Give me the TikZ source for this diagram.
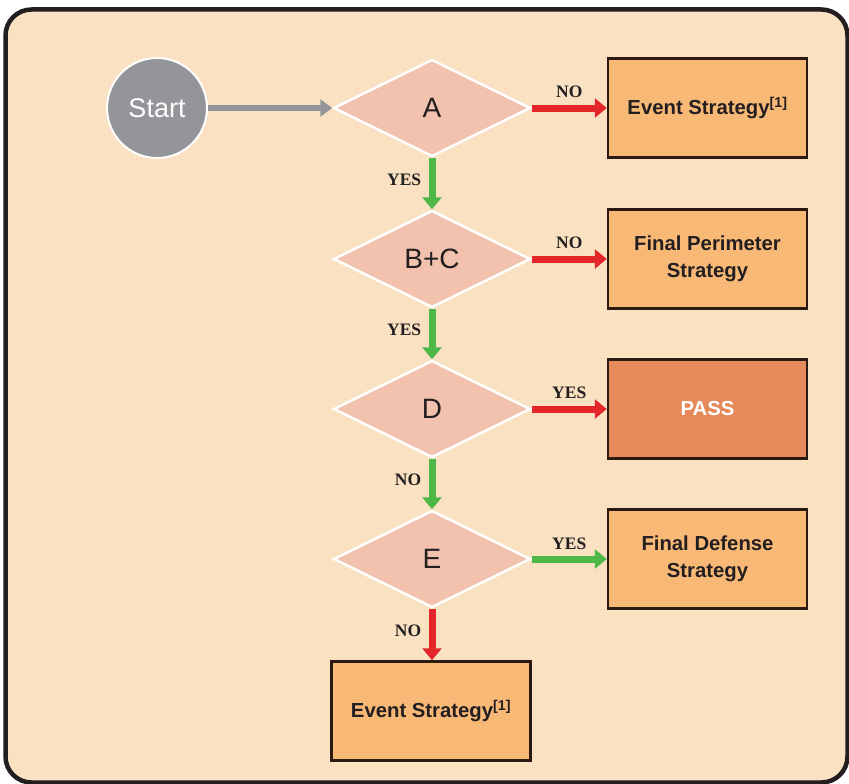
\documentclass[tikz,border=0pt]{standalone}
\usepackage{fontspec}
\setmainfont{Liberation Sans}
\newfontfamily\labelfont{Liberation Serif}
\usetikzlibrary{shapes.geometric,arrows.meta}

\definecolor{panel}{HTML}{FAE1C2}
\definecolor{frameline}{HTML}{231F20}
\definecolor{ink}{HTML}{231F20}
\definecolor{pinkfill}{HTML}{F2C2AF}
\definecolor{boxfill}{HTML}{F9B976}
\definecolor{passfill}{HTML}{E6895B}
\definecolor{boxline}{HTML}{2B1A12}
\definecolor{nored}{HTML}{E3262A}
\definecolor{yesgreen}{HTML}{4DB748}
\definecolor{startgray}{HTML}{939598}

\begin{document}
\begin{tikzpicture}[x=1pt,y=-1pt,
  decision/.style={diamond, aspect=2, fill=pinkfill, draw=white, line width=2.5pt,
    minimum width=197pt, minimum height=97pt, inner sep=0pt,
    font=\fontsize{28}{30}\selectfont, text=ink},
  outcome/.style={rectangle, fill=boxfill, draw=boxline, line width=2.5pt,
    minimum width=199pt, minimum height=99pt, align=center, inner sep=0pt,
    font=\fontsize{20.3}{27}\selectfont\bfseries, text=ink},
  flow/.style={line width=7pt, -{Triangle[width=19pt,length=12pt]}},
  ans/.style={font=\labelfont\bfseries\fontsize{17.5}{17.5}\selectfont, text=ink}]

% page and rounded panel
\useasboundingbox (0,0) rectangle (849,784);
\fill[white] (0,0) rectangle (849,784);
\draw[line width=4.5pt, draw=frameline, fill=panel, rounded corners=26pt]
  (5.5,9.5) rectangle (847.5,782.5);

% start
\node[circle, fill=startgray, draw=white, line width=2pt, minimum size=100pt,
  inner sep=0pt, text=white, font=\fontsize{27}{29}\selectfont] (start) at (157,108) {Start};

% decisions
\node[decision] (A)  at (432,108) {A};
\node[decision] (BC) at (432,259) {B+C};
\node[decision] (D)  at (432,409) {D};
\node[decision] (E)  at (432,559) {E};

% outcomes
\node[outcome] (ev1)   at (707.5,108) {Event Strategy\textsuperscript{[1]}};
\node[outcome] (perim) at (707.5,259) {Final Perimeter\\Strategy};
\node[outcome, fill=passfill, text=white] (pass) at (707.5,409) {PASS};
\node[outcome] (def)   at (707.5,559) {Final Defense\\Strategy};
\node[outcome] (ev2)   at (431,711) {Event Strategy\textsuperscript{[1]}};

% connectors
\draw[line width=6.5pt, startgray, -{Triangle[width=17pt,length=12pt]}] (start.east) -- (A.west);

\draw[flow, nored] (A.east) -- node[ans, above=3pt] {NO} (ev1.west);
\draw[flow, yesgreen] (A.south) -- node[ans, left=4pt, pos=0.42] {YES} (BC.north);

\draw[flow, nored] (BC.east) -- node[ans, above=3pt] {NO} (perim.west);
\draw[flow, yesgreen] (BC.south) -- node[ans, left=4pt, pos=0.42] {YES} (D.north);

\draw[flow, nored] (D.east) -- node[ans, above=3pt] {YES} (pass.west);
\draw[flow, yesgreen] (D.south) -- node[ans, left=4pt, pos=0.42] {NO} (E.north);

\draw[flow, yesgreen] (E.east) -- node[ans, above=3pt] {YES} (def.west);
\draw[flow, nored] (E.south) -- node[ans, left=4pt, pos=0.42] {NO} (E.south |- ev2.north);
\end{tikzpicture}
\end{document}
